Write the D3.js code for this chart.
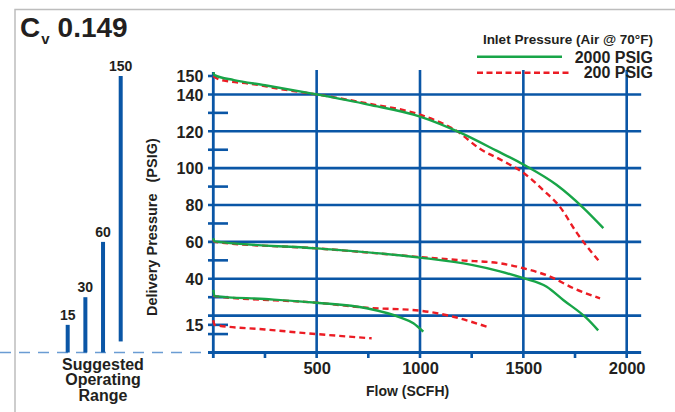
<!DOCTYPE html>
<html>
<head>
<meta charset="utf-8">
<script src="https://cdn.jsdelivr.net/npm/d3@7"></script>
<style>
  html, body { margin: 0; padding: 0; background: #fff; }
  svg { display: block; font-family: "Liberation Sans", Arial, Helvetica, sans-serif; font-weight: bold; }
</style>
</head>
<body>
<svg id="chart" width="675" height="412"></svg>
<script>
// ---------- data ----------
const title = "0.149";
const legendTitle = "Inlet Pressure (Air @ 70°F)";
const seriesNames = ["2000 PSIG", "200 PSIG"];

const xTickLabels = [500, 1000, 1500, 2000];
const xMinorTicks = [250, 750, 1250, 1750];
const yTickLabels = [15, 40, 60, 80, 100, 120, 140, 150];
const yGridLines = [20, 40, 60, 80, 100, 120, 140];
const yMinorTicks = [10, 15, 30, 50, 70, 90, 110, 130];

// Suggested operating range bars
const rangeCategories = [15, 30, 60, 150];
const rangeLow = [0, 0, 0, 6];

// Curves: [flow (SCFH), delivery pressure (PSIG)]
const green150 = [[0,152],[6,150.5],[100,147.8],[250,145],[500,140],[750,134.5],[1000,128],[1200,119],[1370,109.5],[1500,102],[1660,91],[1790,78.5],[1887,67.5]];
const red150   = [[0,150],[20,148.5],[80,147],[180,145.8],[320,143],[500,140],[750,135],[1000,129],[1180,120],[1290,110.5],[1400,104],[1500,97.5],[1597,88],[1677,79],[1758,65],[1863,50]];
const green60  = [[0,62],[6,60.3],[500,56.5],[1000,51.5],[1250,47.5],[1387,44],[1500,40.3],[1613,35.7],[1693,28.5],[1806,18.6],[1862,12]];
const red60    = [[0,61],[6,60],[500,56.5],[1000,51.8],[1200,50],[1387,48.4],[1500,45.7],[1629,41.2],[1742,34.9],[1871,29.4]];
const green30  = [[0,34],[6,30.6],[250,29],[500,27],[742,24],[903,19.1],[968,15.9],[1016,11.3]];
const red30    = [[0,31],[6,30.6],[500,27],[742,24.3],[1000,22.7],[1161,19.4],[1323,14]];
const red15    = [[0,17.5],[6,15],[250,12.5],[500,10],[766,7.7]];

// ---------- drawing ----------
const BLUE = "#0a56a6", GREEN = "#18a548", RED = "#ec1c24", INK = "#231f20";
const svg = d3.select("#chart");

const x = d3.scaleLinear().domain([0, 2000]).range([213.3, 626.7]);
const y = d3.scaleLinear().domain([0, 150]).range([352.5, 76]);
const xEnd = x(2070), gridTop = 70, gridBot = 358;

// frame
svg.append("path").attr("d", "M15,412V9.5H675").attr("fill", "none")
  .attr("stroke", "#bdbdbd").attr("stroke-width", 1.5);

// title
const t = svg.append("text").attr("x", 20).attr("y", 37).attr("fill", INK).attr("font-size", 28);
t.append("tspan").text("C");
t.append("tspan").attr("font-size", 15).attr("dy", 7).attr("dx", 1).text("v");
t.append("tspan").attr("dy", -7).attr("dx", 8).text(title);

// grid horizontal
svg.append("g").selectAll("line").data(yGridLines).join("line")
  .attr("x1", 208).attr("x2", xEnd).attr("y1", d => y(d)).attr("y2", d => y(d))
  .attr("stroke", BLUE).attr("stroke-width", 2.6);
// minor y ticks
svg.append("g").selectAll("line").data(yMinorTicks).join("line")
  .attr("x1", 208).attr("x2", 228).attr("y1", d => y(d)).attr("y2", d => y(d))
  .attr("stroke", BLUE).attr("stroke-width", 2.6);
svg.append("line").attr("x1", 208).attr("x2", 215).attr("y1", y(150)).attr("y2", y(150))
  .attr("stroke", BLUE).attr("stroke-width", 2.6);
// vertical grid
svg.append("g").selectAll("line").data(xTickLabels).join("line")
  .attr("x1", d => x(d)).attr("x2", d => x(d)).attr("y1", gridTop).attr("y2", gridBot)
  .attr("stroke", BLUE).attr("stroke-width", 2.6);
svg.append("g").selectAll("line").data(xMinorTicks).join("line")
  .attr("x1", d => x(d)).attr("x2", d => x(d)).attr("y1", y(0)).attr("y2", gridBot)
  .attr("stroke", BLUE).attr("stroke-width", 2.6);
// axes lines
svg.append("line").attr("x1", 208).attr("x2", xEnd).attr("y1", y(0)).attr("y2", y(0))
  .attr("stroke", BLUE).attr("stroke-width", 2.8);
svg.append("line").attr("x1", x(0)).attr("x2", x(0)).attr("y1", 72).attr("y2", gridBot)
  .attr("stroke", BLUE).attr("stroke-width", 2.8);

// axis labels using d3 axes
const gy = svg.append("g").attr("transform", `translate(${x(0)},0)`)
  .call(d3.axisLeft(y).tickValues(yTickLabels).tickSize(0).tickPadding(10).tickFormat(d3.format("d")));
gy.select(".domain").remove();
gy.selectAll("text").attr("font-size", 16).attr("font-family", null).attr("fill", INK).attr("dy", "0.36em");

const gx = svg.append("g").attr("transform", `translate(0,${y(0)})`)
  .call(d3.axisBottom(x).tickValues(xTickLabels).tickSize(0).tickFormat(d3.format("d")));
gx.select(".domain").remove();
gx.selectAll("text").attr("font-size", 16.5).attr("font-family", null).attr("fill", INK)
  .attr("y", 21).attr("dy", null);

// axis titles
svg.append("text").attr("x", x(940)).attr("y", 396).attr("text-anchor", "middle")
  .attr("font-size", 14).attr("fill", INK).text("Flow (SCFH)");
const yt = svg.append("text").attr("transform", "translate(157,316) rotate(-90)")
  .attr("font-size", 14.5).attr("fill", INK);
yt.append("tspan").text("Delivery Pressure");
yt.append("tspan").attr("dx", 11).text("(PSIG)");

// suggested operating range
svg.append("line").attr("x1", 0).attr("x2", 208).attr("y1", y(0)).attr("y2", y(0))
  .attr("stroke", "#6a9cd3").attr("stroke-width", 1.6).attr("stroke-dasharray", "11,8");
const bx = d3.scalePoint().domain(rangeCategories).range([67.7, 120.7]);
svg.append("g").selectAll("rect").data(rangeCategories).join("rect")
  .attr("x", d => bx(d) - 2).attr("width", 4)
  .attr("y", d => y(d)).attr("height", (d, i) => y(rangeLow[i]) - y(d))
  .attr("fill", BLUE);
svg.append("g").selectAll("text").data(rangeCategories).join("text")
  .attr("x", d => bx(d)).attr("y", d => y(d) - 5).attr("text-anchor", "middle")
  .attr("font-size", 14).attr("fill", INK).text(d => d);
const sor = svg.append("text").attr("text-anchor", "middle").attr("font-size", 16).attr("fill", INK);
["Suggested", "Operating", "Range"].forEach((s, i) =>
  sor.append("tspan").attr("x", 103).attr("y", 370 + i * 15.3).text(s));

// curves
const line = d3.line().x(d => x(d[0])).y(d => y(d[1])).curve(d3.curveMonotoneX);
const greens = [green150, green60, green30];
const reds = [red150, red60, red30, red15];
svg.append("g").selectAll("path").data(reds).join("path")
  .attr("d", line).attr("fill", "none").attr("stroke", RED).attr("stroke-width", 2.4)
  .attr("stroke-dasharray", "6,4");
svg.append("g").selectAll("path").data(greens).join("path")
  .attr("d", line).attr("fill", "none").attr("stroke", GREEN).attr("stroke-width", 2.4);

// legend
svg.append("text").attr("x", 653).attr("y", 44).attr("text-anchor", "end")
  .attr("font-size", 13.5).attr("fill", INK).text(legendTitle);
svg.append("line").attr("x1", 477).attr("x2", 562).attr("y1", 56.7).attr("y2", 56.7)
  .attr("stroke", GREEN).attr("stroke-width", 2.6);
svg.append("line").attr("x1", 477).attr("x2", 570).attr("y1", 72.7).attr("y2", 72.7)
  .attr("stroke", RED).attr("stroke-width", 2.6).attr("stroke-dasharray", "6,3.5");
svg.append("text").attr("x", 653).attr("y", 62.5).attr("text-anchor", "end")
  .attr("font-size", 16).attr("fill", INK).text(seriesNames[0]);
svg.append("text").attr("x", 653).attr("y", 78).attr("text-anchor", "end")
  .attr("font-size", 16).attr("fill", INK).text(seriesNames[1]);
</script>
</body>
</html>
